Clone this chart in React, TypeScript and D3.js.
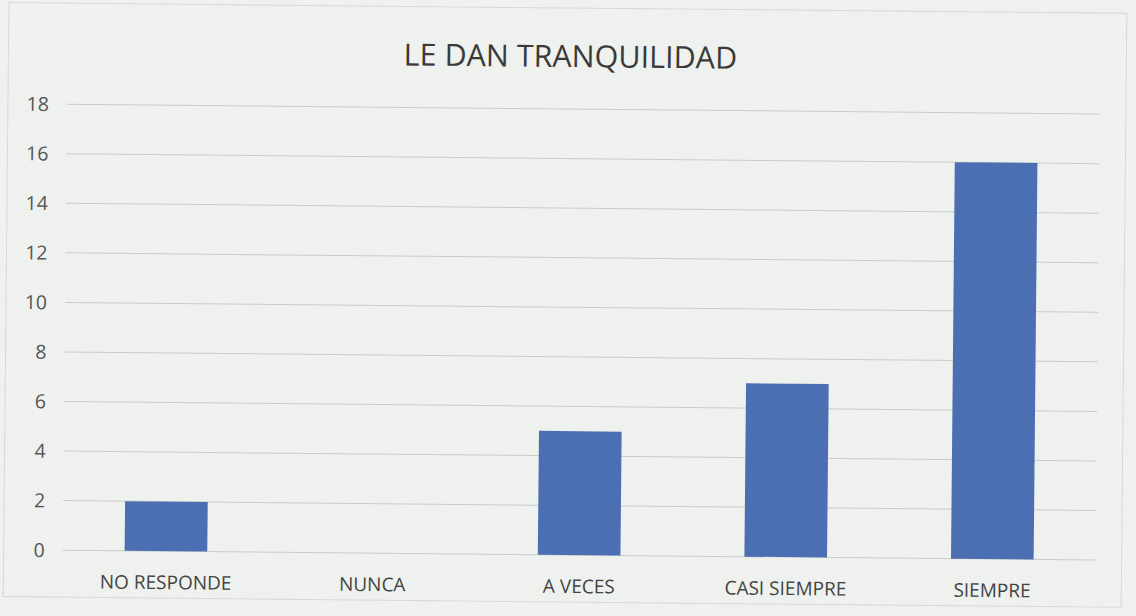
import React from "react";
import * as d3 from "d3";

const categories = ["NO RESPONDE", "NUNCA", "A VECES", "CASI SIEMPRE", "SIEMPRE"];
const values = [2, 0, 5, 7, 16];
const yTicks = [0, 2, 4, 6, 8, 10, 12, 14, 16, 18];
const title = "LE DAN TRANQUILIDAD";

const W = 1136;
const H = 616;
const plot = { left: 65, right: 1098, top: 109, bottom: 555 };

export default function App() {
  const x = d3
    .scaleBand<string>()
    .domain(categories)
    .range([plot.left, plot.right])
    .paddingInner(0.6)
    .paddingOuter(0.3);
  const y = d3.scaleLinear().domain([0, 18]).range([plot.bottom, plot.top]);
  const font = "'Open Sans', 'Noto Sans', sans-serif";
  return (
    <div style={{ position: "fixed", left: 0, top: 0 }}>
      <svg width={W} height={H} style={{ display: "block" }}>
        <rect x={0} y={0} width={W} height={H} fill="#eef1ee" />
        <g transform={`rotate(0.55, ${W / 2}, ${H / 2})`}>
          <rect x={6} y={8} width={1118} height={594} fill="none" stroke="#d6d9d6" strokeWidth={1} />
          <text x={568} y={67} textAnchor="middle" fontFamily={font} fontSize={30.5} fill="#3a3a3a">
            {title}
          </text>
          {yTicks.map((t) => (
            <g key={t}>
              <line x1={plot.left} x2={plot.right} y1={y(t)} y2={y(t)} stroke="#c9ccc9" strokeWidth={1} />
              <text x={47} y={y(t)} dy="0.36em" textAnchor="end" fontFamily={font} fontSize={19.5} fill="#555">
                {t}
              </text>
            </g>
          ))}
          {categories.map((c, i) => (
            <rect
              key={c}
              x={x(c)!}
              y={y(values[i])}
              width={x.bandwidth()}
              height={y(0) - y(values[i])}
              fill="#4b6fb2"
            />
          ))}
          {categories.map((c) => (
            <text
              key={c}
              x={x(c)! + x.bandwidth() / 2}
              y={plot.bottom + 38}
              textAnchor="middle"
              fontFamily={font}
              fontSize={19}
              fill="#444"
            >
              {c}
            </text>
          ))}
        </g>
      </svg>
    </div>
  );
}
